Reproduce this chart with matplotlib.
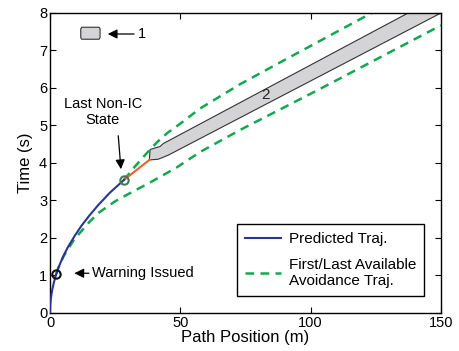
import matplotlib
matplotlib.use('Agg')
import matplotlib.pyplot as plt
from matplotlib.patches import Polygon

plt.rcParams['font.family'] = ['Liberation Sans', 'DejaVu Sans']

# predicted trajectory (path position m, time s)
pred_x = [0, 0.02, 0.1, 0.3, 0.8, 1.5, 2.4, 3.2, 4.2, 5.5, 6.9, 9.5, 12.0, 15.0, 18.4, 23.0, 28.4]
pred_t = [0, 0.08, 0.2, 0.37, 0.6, 0.82, 1.04, 1.2, 1.37, 1.57, 1.76, 2.06, 2.32, 2.59, 2.87, 3.21, 3.55]

# segment after last non-IC state
orange_x = [28.4, 38.1]
orange_t = [3.55, 4.08]

# first / last available avoidance trajectories
upper_x = [28.4, 32.5, 37.1, 41.0, 45.0, 50.0, 57.5, 72.9, 88.2, 123.4]
upper_t = [3.55, 3.9, 4.26, 4.55, 4.8, 5.05, 5.45, 6.1, 6.68, 8.0]
lower_x = [2.4, 3.2, 4.2, 5.5, 6.9, 9.0, 12.0, 15.0, 18.4, 24.8, 28.1, 38.4, 48.6, 57.5, 72.9, 102.9, 150.0]
lower_t = [1.04, 1.2, 1.37, 1.55, 1.7, 1.93, 2.18, 2.42, 2.66, 2.97, 3.1, 3.48, 3.88, 4.29, 4.88, 5.95, 7.67]

# obstacles
obs1_x = [11.8, 12.2, 18.8, 19.2, 19.2, 18.8, 12.2, 11.8]
obs1_t = [7.34, 7.3, 7.3, 7.34, 7.58, 7.62, 7.62, 7.58]
obs2_x = [38.1, 41.5, 45.4, 150.0, 137.4, 43.5, 42.2, 38.4]
obs2_t = [4.08, 4.1, 4.21, 8.0, 8.0, 4.52, 4.44, 4.36]

warn_pt = (2.4, 1.04)
nonic_pt = (28.4, 3.55)

blue = '#2b3591'
green = '#13a84f'
orange = '#e5632b'

fig = plt.figure(figsize=(4.6, 3.51), dpi=100)
ax = fig.add_axes([0.1087, 0.1083, 0.8500, 0.8547])

ax.add_patch(Polygon(list(zip(obs1_x, obs1_t)), closed=True, facecolor='#d4d4d6',
                     edgecolor='#333333', lw=0.8, zorder=1))
ax.add_patch(Polygon(list(zip(obs2_x, obs2_t)), closed=True, facecolor='#d4d4d6',
                     edgecolor='#333333', lw=0.8, zorder=1))

ax.plot(upper_x, upper_t, '--', color=green, lw=1.8, dashes=(3.5, 2.5), zorder=2)
ax.plot(orange_x, orange_t, '-', color=orange, lw=1.5, zorder=3)
l2, = ax.plot(lower_x, lower_t, '--', color=green, lw=1.8, dashes=(3.5, 2.5), zorder=2)
l1, = ax.plot(pred_x, pred_t, '-', color=blue, lw=1.5, zorder=4)

ax.plot(*warn_pt, 'o', ms=6, mfc='none', mec='#111111', mew=1.5, zorder=5)
ax.plot(*nonic_pt, 'o', ms=6, mfc='none', mec='#3f7a55', mew=1.5, zorder=5)

ax.text(82.5, 5.81, '2', fontsize=11, ha='center', va='center', color='#222222')
ax.annotate('', xy=(21.1, 7.44), xytext=(33.3, 7.44),
            arrowprops=dict(arrowstyle='-|>', color='k', lw=0.9, mutation_scale=14))
ax.text(33.6, 7.44, '1', fontsize=10.5, ha='left', va='center')

ax.annotate('', xy=(27.3, 3.76), xytext=(26.1, 4.8),
            arrowprops=dict(arrowstyle='-|>', color='k', lw=0.9, mutation_scale=14))
ax.text(20.3, 5.36, 'Last Non-IC\nState', fontsize=10.5, ha='center', va='center',
        linespacing=1.15)

ax.annotate('', xy=(8.3, 1.06), xytext=(16.0, 1.06),
            arrowprops=dict(arrowstyle='-|>', color='k', lw=0.9, mutation_scale=14))
ax.text(16.0, 1.06, 'Warning Issued', fontsize=10.5, ha='left', va='center')

ax.set_xlim(0, 150)
ax.set_ylim(0, 8)
ax.set_xticks([0, 50, 100, 150])
ax.set_yticks(range(0, 9))
ax.tick_params(direction='in', top=True, right=True, labelsize=10.5, length=4, width=0.8, pad=2)
for s in ax.spines.values():
    s.set_linewidth(1.0)
ax.set_xlabel('Path Position (m)', fontsize=12, labelpad=0)
ax.set_ylabel('Time (s)', fontsize=12, labelpad=4)

leg = ax.legend([l1, l2], ['Predicted Traj.', 'First/Last Available\nAvoidance Traj.'],
                loc='lower right', bbox_to_anchor=(0.9565, 0.0567), fontsize=11,
                fancybox=False, edgecolor='k', framealpha=1, handlelength=2.4,
                handletextpad=0.5, borderpad=0.5, labelspacing=0.8, borderaxespad=0)
leg.get_frame().set_linewidth(1.0)

fig.savefig('out.png', dpi=100)
